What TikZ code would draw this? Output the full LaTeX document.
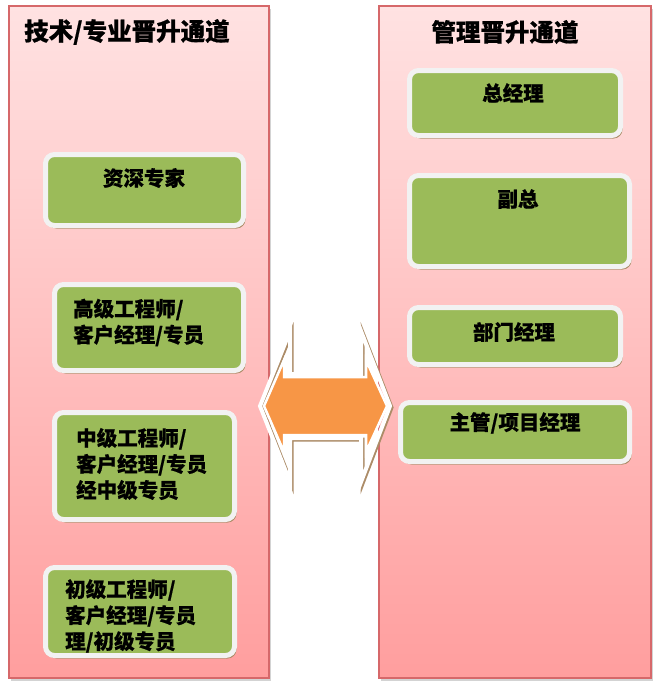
\documentclass[tikz,border=0pt]{standalone}
\usepackage{fontspec}
\usetikzlibrary{shadows}
\newfontfamily\cjk{Noto Sans CJK SC}[BoldFeatures={FakeBold=0.6}]
\definecolor{pinktop}{RGB}{255,226,226}
\definecolor{pinkbot}{RGB}{255,158,158}
\definecolor{panelrim}{RGB}{214,104,106}
\definecolor{boxgreen}{RGB}{155,187,89}
\definecolor{boxrim}{RGB}{242,242,242}
\definecolor{boxshade}{RGB}{172,140,104}
\definecolor{arroworange}{RGB}{247,150,70}
\def\arrowframe{(260,406) -- (290,331) -- (290,374) -- (361,374) -- (361,331) -- (390,406) -- (361,482) -- (361,438) -- (290,438) -- (290,482) -- cycle}% white frame round the arrow
\tikzset{
  panel/.style={draw=panelrim, line width=1.5pt, top color=pinktop, bottom color=pinkbot,
    drop shadow={shadow xshift=2pt, shadow yshift=-2.5pt, opacity=0.35}},
  stage/.style={rectangle, draw=boxrim, line width=5pt, fill=boxgreen, rounded corners=9pt, inner sep=0pt,
    drop shadow={shadow xshift=2pt, shadow yshift=-3pt, fill=boxshade, opacity=1}},
  stagetext/.style={inner sep=0pt, align=left, font=\cjk\bfseries\fontsize{20.5}{26}\selectfont},
  title/.style={inner sep=0pt, font=\cjk\bfseries\fontsize{24.5}{28}\selectfont}
}
\begin{document}
\begin{tikzpicture}[x=1pt, y=-1pt]
  \useasboundingbox (0,0) rectangle (661,691);
  \draw[panel] (9,6) rectangle (269,678); %draw panels
  \draw[panel] (379,6) rectangle (651,678);

  %draw titles
  \node[title, anchor=west] (techtitle) at (24,32) {技术/专业晋升通道};
  \node[title] (mgmttitle) at (505,32) {管理晋升通道};

  %technical ladder
  \node[stage, minimum width=198pt, minimum height=71pt] (senior) at (144.5,190) {};
  \node[stage, minimum width=189pt, minimum height=86pt] (high) at (149,327.5) {};
  \node[stage, minimum width=180pt, minimum height=107pt] (middle) at (144.5,466) {};
  \node[stage, minimum width=189pt, minimum height=88pt] (junior) at (140,611.5) {};
  \node[stagetext] (seniortext) at (144,178) {资深专家};
  \node[stagetext, anchor=west] (hightext) at (73,322.5) {高级工程师/\\客户经理/专员};
  \node[stagetext, anchor=west] (middletext) at (76,464) {中级工程师/\\客户经理/专员\\经中级专员};
  \node[stagetext, anchor=west] (juniortext) at (65,616) {初级工程师/\\客户经理/专员\\理/初级专员};

  %management ladder
  \node[stage, minimum width=211pt, minimum height=65pt] (gm) at (515,103) {};
  \node[stage, minimum width=220pt, minimum height=91pt] (vice) at (519.5,221) {};
  \node[stage, minimum width=211pt, minimum height=57pt] (dept) at (515,336) {};
  \node[stage, minimum width=229pt, minimum height=59pt] (lead) at (515,432) {};
  \node[stagetext] (gmtext) at (513,93) {总经理};
  \node[stagetext] (vicetext) at (518,199) {副总};
  \node[stagetext] (depttext) at (514,332) {部门经理};
  \node[stagetext] (leadtext) at (515,423) {主管/项目经理};

  %double arrow between the two ladders
  \draw[boxshade, line width=4pt, line join=miter, shift={(1.5,1.5)}] \arrowframe;
  \draw[white, line width=4pt, line join=miter] \arrowframe;
  \draw[white, line width=2.5pt, fill=arroworange] (264,406) -- (284,360) -- (284,377) -- (366,377) -- (366,360) -- (387,406)
    -- (366,452) -- (366,435) -- (284,435) -- (284,452) -- cycle;
\end{tikzpicture}
\end{document}
